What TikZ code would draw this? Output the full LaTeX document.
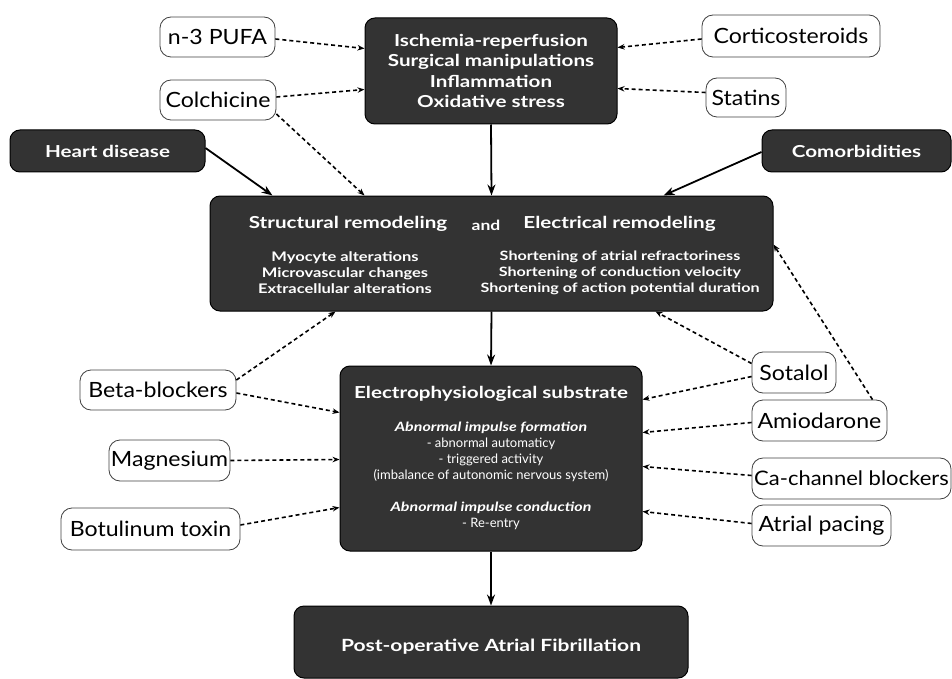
\documentclass[tikz,border=0pt]{standalone}
\usepackage{fontspec}
\setmainfont{Lato}
\newfontfamily\wideb[FakeStretch=1.25]{Lato}
\newfontfamily\widereg[FakeStretch=1.1]{Lato}
\usetikzlibrary{arrows.meta,calc}
\definecolor{boxdark}{HTML}{333333}
\begin{document}
\begin{tikzpicture}[x=1pt,y=-1pt,
  darkbox/.style={draw=black, line width=1pt, fill=boxdark, rounded corners=10pt, text=white, align=center, inner sep=0pt},
  drug/.style={draw=black!75, line width=0.8pt, fill=white, rounded corners=11pt, font=\widereg\fontsize{21}{24}\selectfont, inner sep=0pt},
  wtext/.style={text=white, inner sep=0pt, align=center},
  dasharrow/.style={-{Stealth[length=7pt,width=5.5pt]}, line width=1.6pt, dash pattern=on 4pt off 3pt},
  solidarrow/.style={-{Stealth[length=11pt,width=8pt]}, line width=1.8pt}]
\useasboundingbox (0,0) rectangle (952,679);

% dark boxes
\node[darkbox, minimum width=252pt, minimum height=106pt, font=\wideb\bfseries\fontsize{16.5}{20.5}\selectfont] (top) at (491,71)
  {Ischemia-reperfusion\\Surgical manipulations\\Inflammation\\Oxidative stress};
\node[darkbox, minimum width=195pt, minimum height=42pt, font=\wideb\bfseries\fontsize{16.5}{18}\selectfont] (heart) at (107.5,151) {Heart disease};
\node[darkbox, minimum width=189pt, minimum height=42pt, font=\wideb\bfseries\fontsize{16.5}{18}\selectfont] (comor) at (856.5,151) {Comorbidities};
\node[darkbox, minimum width=563pt, minimum height=115pt] (struct) at (491.5,253.5) {};
\node[wtext, font=\wideb\bfseries\fontsize{16.5}{20}\selectfont] (structT) at (348,224) {Structural remodeling};
\node[wtext, font=\wideb\bfseries\fontsize{14}{16}\selectfont] (andT) at (486,225) {and};
\node[wtext, font=\wideb\bfseries\fontsize{16.5}{20}\selectfont] (elecT) at (619.5,224) {Electrical remodeling};
\node[wtext, font=\wideb\bfseries\fontsize{13.2}{16}\selectfont] (structL) at (345,273)
  {Myocyte alterations\\Microvascular changes\\Extracellular alterations};
\node[wtext, font=\wideb\bfseries\fontsize{12.9}{16}\selectfont] (elecL) at (620,273)
  {Shortening of atrial refractoriness\\Shortening of conduction velocity\\Shortening of action potential duration};

\node[darkbox, minimum width=302pt, minimum height=185pt] (substr) at (491,458.5) {};
\node[wtext, font=\wideb\bfseries\fontsize{16.5}{18}\selectfont] (substrT) at (491,394) {Electrophysiological substrate};
\node[wtext, font=\fontsize{13}{16}\selectfont] (substrL) at (491,476)
  {{\wideb\bfseries\itshape\fontsize{12.8}{16}\selectfont Abnormal impulse formation}\\- abnormal automaticy\\- triggered activity\\(imbalance of autonomic nervous system)\\[16pt]{\wideb\bfseries\itshape\fontsize{12.8}{16}\selectfont Abnormal impulse conduction}\\- Re-entry};

\node[darkbox, minimum width=394pt, minimum height=72pt] (poaf) at (491,642) {};
\node[wtext, font=\wideb\bfseries\fontsize{16.8}{19}\selectfont] (poafT) at (491,647) {Post-operative Atrial Fibrillation};

% drug boxes
\node[drug, minimum width=115pt, minimum height=40pt] (pufa) at (217.5,37) {n-3 PUFA};
\node[drug, minimum width=116pt, minimum height=40pt] (colch) at (218,100) {Colchicine};
\node[drug, minimum width=178pt, minimum height=42pt] (cortico) at (791,36) {Corticosteroids};
\node[drug, minimum width=80pt, minimum height=39pt] (statins) at (746,97.5) {Statins};
\node[drug, minimum width=156pt, minimum height=40pt] (beta) at (158,390) {Beta-blockers};
\node[drug, minimum width=121pt, minimum height=41pt] (magn) at (169.5,460.5) {Magnesium};
\node[drug, minimum width=179pt, minimum height=42pt] (botu) at (150.5,529) {Botulinum toxin};
\node[drug, minimum width=84pt, minimum height=41pt] (sotalol) at (794,372.5) {Sotalol};
\node[drug, minimum width=135pt, minimum height=41pt] (amio) at (819.5,420.5) {Amiodarone};
\node[drug, minimum width=199pt, minimum height=41pt, font=\widereg\fontsize{20}{24}\selectfont] (cachan) at (851.5,478.5) {Ca-channel blockers};
\node[drug, minimum width=139pt, minimum height=41pt] (pacing) at (821.5,525.5) {Atrial pacing};

% solid arrows
\draw[solidarrow] (top.south) -- (struct.north);
\draw[solidarrow] ([yshift=3pt]heart.east) -- ([xshift=63pt]struct.north west);
\draw[solidarrow] ([yshift=-1pt]comor.west) -- ([xshift=-110pt]struct.north east);
\draw[solidarrow] (struct.south) -- (substr.north);
\draw[solidarrow] (substr.south) -- (poaf.north);

% dashed arrows
\draw[dasharrow] ([yshift=-2pt]pufa.east) -- ([yshift=-31pt]top.north west);
\draw[dasharrow] ([yshift=3pt]colch.east) -- ([yshift=35pt]top.south west);
\draw[dasharrow] ([yshift=-14pt]colch.east) -- ([xshift=155pt]struct.north west);
\draw[dasharrow] ([yshift=-3pt]cortico.west) -- ([yshift=-30pt]top.north east);
\draw[dasharrow] ([yshift=5pt]statins.west) -- ([yshift=36pt]top.south east);
\draw[dasharrow] ([yshift=10pt]beta.east) -- ([xshift=126pt]struct.south west);
\draw[dasharrow] ([yshift=-3pt]beta.east) -- ([yshift=-47pt]substr.north west);
\draw[dasharrow] (magn.east) -- ([yshift=-94pt]substr.north west);
\draw[dasharrow] ([yshift=4pt]botu.east) -- ([yshift=44pt]substr.south west);
\draw[dasharrow] ([yshift=9pt]sotalol.west) -- ([xshift=-118pt]struct.south east);
\draw[dasharrow] ([yshift=-4pt]sotalol.west) -- ([yshift=-34pt]substr.north east);
\draw[dasharrow] ([yshift=-2pt]amio.west) -- ([yshift=-67pt]substr.north east);
\draw[dasharrow] ([xshift=53pt]amio.north) -- ([yshift=9pt]struct.east);
\draw[dasharrow] ([yshift=3pt]cachan.west) -- ([yshift=85pt]substr.south east);
\draw[dasharrow] ([yshift=2pt]pacing.west) -- ([yshift=40pt]substr.south east);
\end{tikzpicture}
\end{document}
